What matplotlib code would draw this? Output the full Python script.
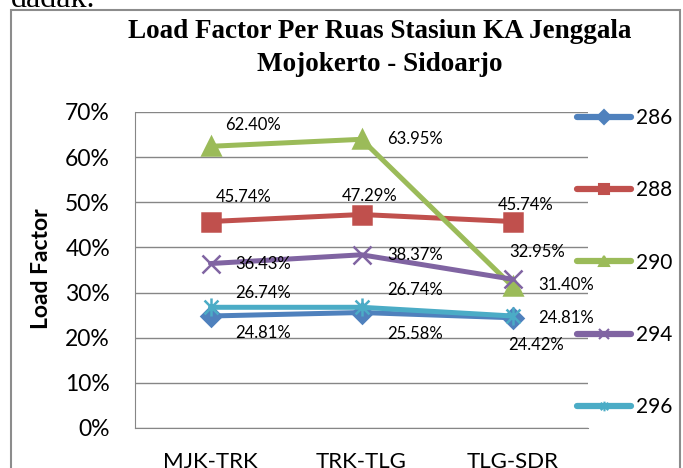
import matplotlib
matplotlib.use("Agg")
import matplotlib.pyplot as plt
from matplotlib.lines import Line2D
from matplotlib.path import Path
from matplotlib.patches import Rectangle

categories = ["MJK-TRK", "TRK-TLG", "TLG-SDR"]
series_names = ["286", "288", "290", "294", "296"]
v286 = [0.2481, 0.2558, 0.2442]
v288 = [0.4574, 0.4729, 0.4574]
v290 = [0.6240, 0.6395, 0.3140]
v294 = [0.3643, 0.3837, 0.3295]
v296 = [0.2674, 0.2674, 0.2481]
y_ticks = [0.0, 0.1, 0.2, 0.3, 0.4, 0.5, 0.6, 0.7]

# styles / label offsets in pixels (dx, dy downward positive)
colors = ["#4F81BD", "#C0504D", "#9BBB59", "#8064A2", "#4BACC6"]
star = Path([(-1, -1), (1, 1), (-1, 1), (1, -1), (0, -1.3), (0, 1.3)],
            [Path.MOVETO, Path.LINETO, Path.MOVETO, Path.LINETO, Path.MOVETO, Path.LINETO])
markers = ["D", "s", "^", "x", star]
msizes = [10, 13.5, 13.5, 13, 13]
offsets = [
    [(53, 17), (54, 21), (24, 27)],
    [(33, -25), (8, -19), (13, -17)],
    [(43, -21), (54, 0), (54, -1)],
    [(53, 0), (54, 0), (25, -27)],
    [(53, -14), (54, -17), (54, 2)],
]

plt.rcParams["font.family"] = ["Lato", "DejaVu Sans"]
W, H = 683, 468
fig = plt.figure(figsize=(W / 100, H / 100), dpi=100)

ax = fig.add_axes([135 / W, 1 - 428 / H, 453 / W, (428 - 112) / H])
xs = list(range(len(categories)))
data = [v286, v288, v290, v294, v296]
for i, (name, vals) in enumerate(zip(series_names, data)):
    ax.plot(xs, vals, color=colors[i], lw=3.6, marker=markers[i], ms=msizes[i],
            mew=1.8, mec=colors[i], mfc=colors[i], zorder=3 + i, solid_capstyle="round")
    for j, v in enumerate(vals):
        dx, dy = offsets[i][j]
        ax.annotate(f"{v*100:.2f}%", (xs[j], v), xytext=(dx * 0.72, -dy * 0.72),
                    textcoords="offset points", ha="center", va="center",
                    fontsize=12, color="black", zorder=10)

ax.set_xlim(-0.5, 2.5)
ax.set_ylim(0, 0.7)
ax.set_yticks(y_ticks)
ax.set_yticklabels([f"{int(round(t*100))}%" for t in y_ticks], fontsize=16.5)
ax.set_xticks(xs)
ax.set_xticklabels(categories, fontsize=16)
ax.tick_params(axis="y", length=0, pad=18)
ax.tick_params(axis="x", length=0, pad=17)
ax.grid(axis="y", color="#868686", lw=1)
ax.set_axisbelow(True)
for s in ["top", "right"]:
    ax.spines[s].set_visible(False)
ax.spines["left"].set_color("#868686")
ax.spines["bottom"].set_color("#868686")

fig.text(42 / W, 1 - 269 / H, "Load Factor", rotation=90, ha="center", va="center",
         fontsize=16.5, fontweight="bold")

fig.text(380 / W, 1 - 48 / H, "Load Factor Per Ruas Stasiun KA Jenggala\nMojokerto - Sidoarjo",
         ha="center", va="center", fontsize=19.5, fontweight="bold",
         family="Liberation Serif", linespacing=1.4)

fig.text(11 / W, 1 - 7 / H, "dadak.", ha="left", va="baseline", fontsize=23,
         family="Liberation Serif")

fig.patches.append(Rectangle((11 / W, -0.05), (680 - 11) / W, 1 - 10 / H + 0.05,
                             transform=fig.transFigure, fill=False, ec="#8c8c8c", lw=1.5))

handles = [Line2D([], [], color=colors[i], lw=4.5, marker=markers[i], ms=7, mew=1.5,
                  mec=colors[i], mfc=colors[i], solid_capstyle="round")
           for i in range(len(series_names))]
fig.legend(handles, series_names, loc="center left", bbox_to_anchor=(577 / W, 1 - 262.5 / H),
           frameon=False, fontsize=15, handlelength=2.6, handletextpad=0.25,
           labelspacing=2.51, borderpad=0, borderaxespad=0)

fig.savefig("out.png", dpi=100)
